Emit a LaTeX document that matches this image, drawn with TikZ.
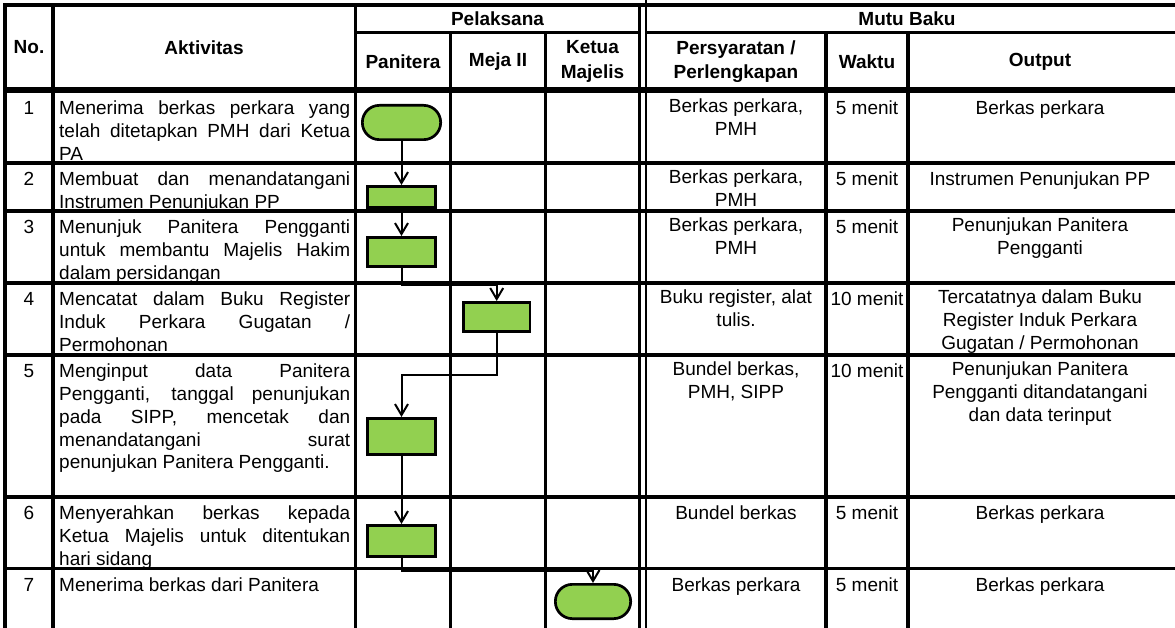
\documentclass[tikz,border=0pt]{standalone}
\usepackage{fontspec}
\setmainfont{Liberation Sans}
\usetikzlibrary{arrows.meta}
\definecolor{boxgreen}{RGB}{146,208,80}
\begin{document}
\begin{tikzpicture}[x=1pt,y=-1pt,
  grid/.style={line width=3.1pt},
  thickgrid/.style={line width=5.5pt},
  hdr/.style={font=\fontsize{19}{24.5}\selectfont\bfseries, align=center, inner sep=0pt, anchor=center},
  cell/.style={font=\fontsize{19}{22.8}\selectfont, inner sep=0pt, anchor=north, align=center, execute at begin node=\strut},
  act/.style={font=\fontsize{19}{22.8}\selectfont, text width=291pt, align=justify, inner sep=0pt, anchor=north west, execute at begin node={\hyphenpenalty=10000\relax\tolerance=10000\relax\strut}},
  proc/.style={draw, line width=2.7pt, fill=boxgreen, inner sep=0pt},
  term/.style={draw, line width=2.7pt, fill=boxgreen, rounded corners=17pt, minimum width=78.3pt, minimum height=34.3pt, inner sep=0pt},
  flow/.style={line width=2pt, -{Straight Barb[length=11pt,width=13pt,line width=2pt]}},
]
\useasboundingbox (0,0) rectangle (1175,628);
\fill[white] (0,0) rectangle (1175,628);

% ---------- header texts ----------
\node[hdr] (hno) at (29,47.5) {No.};
\node[hdr] (hakt) at (204,47.5) {Aktivitas};
\node[hdr] (hpel) at (497.5,18.8) {Pelaksana};
\node[hdr] (hmutu) at (907,18.8) {Mutu Baku};
\node[hdr] (hpan) at (403,61.5) {Panitera};
\node[hdr] (hmeja) at (498,61.5) {Meja II};
\node[hdr] (hket) at (592.5,61.5) {Ketua\\Majelis};
\node[hdr] (hper) at (736,61.5) {Persyaratan /\\Perlengkapan};
\node[hdr] (hwak) at (867,61.5) {Waktu};
\node[hdr] (hout) at (1040,61.5) {Output};

% ---------- row 1 ----------
\begin{scope}
\clip (0,90) rectangle (1175,163);
\node[cell] (n1) at (29,98.5) {1};
\node[act] (a1) at (59,98.5) {Menerima berkas perkara yang\linebreak telah ditetapkan PMH dari Ketua\linebreak PA};
\node[cell] (p1) at (736,98.5) {Berkas perkara,\\PMH};
\node[cell] (w1) at (867,98.5) {5 menit};
\node[cell] (o1) at (1040,98.5) {Berkas perkara};
\end{scope}
% ---------- row 2 ----------
\begin{scope}
\clip (0,163) rectangle (1175,211);
\node[cell] (n2) at (29,169.5) {2};
\node[act] (a2) at (59,169.5) {Membuat dan menandatangani\linebreak Instrumen Penunjukan PP};
\node[cell] (p2) at (736,169.5) {Berkas perkara,\\PMH};
\node[cell] (w2) at (867,169.5) {5 menit};
\node[cell] (o2) at (1040,169.5) {Instrumen Penunjukan PP};
\end{scope}
% ---------- row 3 ----------
\begin{scope}
\clip (0,211) rectangle (1175,283);
\node[cell] (n3) at (29,217.5) {3};
\node[act] (a3) at (59,217.5) {Menunjuk Panitera Pengganti\linebreak untuk membantu Majelis Hakim\linebreak dalam persidangan};
\node[cell] (p3) at (736,217.5) {Berkas perkara,\\PMH};
\node[cell] (w3) at (867,217.5) {5 menit};
\node[cell] (o3) at (1040,217.5) {Penunjukan Panitera\\Pengganti};
\end{scope}
% ---------- row 4 ----------
\begin{scope}
\clip (0,283) rectangle (1175,355);
\node[cell] (n4) at (29,289.5) {4};
\node[act] (a4) at (59,289.5) {Mencatat dalam Buku Register\linebreak Induk Perkara Gugatan /\linebreak Permohonan};
\node[cell] (p4) at (736,289.5) {Buku register, alat\\tulis.};
\node[cell] (w4) at (867,289.5) {10 menit};
\node[cell] (o4) at (1040,289.5) {Tercatatnya dalam Buku\\Register Induk Perkara\\Gugatan / Permohonan};
\end{scope}
% ---------- row 5 ----------
\begin{scope}
\clip (0,355) rectangle (1175,497);
\node[cell] (n5) at (29,361.5) {5};
\node[act] (a5) at (59,361.5) {Menginput data Panitera\linebreak Pengganti, tanggal penunjukan\linebreak pada SIPP, mencetak dan\linebreak menandatangani surat\linebreak penunjukan Panitera Pengganti.};
\node[cell] (p5) at (736,361.5) {Bundel berkas,\\PMH, SIPP};
\node[cell] (w5) at (867,361.5) {10 menit};
\node[cell] (o5) at (1040,361.5) {Penunjukan Panitera\\Pengganti ditandatangani\\dan data terinput};
\end{scope}
% ---------- row 6 ----------
\begin{scope}
\clip (0,497) rectangle (1175,568.5);
\node[cell] (n6) at (29,503.5) {6};
\node[act] (a6) at (59,503.5) {Menyerahkan berkas kepada\linebreak Ketua Majelis untuk ditentukan\linebreak hari sidang};
\node[cell] (p6) at (736,503.5) {Bundel berkas};
\node[cell] (w6) at (867,503.5) {5 menit};
\node[cell] (o6) at (1040,503.5) {Berkas perkara};
\end{scope}
% ---------- row 7 ----------
\begin{scope}
\clip (0,568.5) rectangle (1175,628);
\node[cell] (n7) at (29,575) {7};
\node[act] (a7) at (59,575) {Menerima berkas dari Panitera};
\node[cell] (p7) at (736,575) {Berkas perkara};
\node[cell] (w7) at (867,575) {5 menit};
\node[cell] (o7) at (1040,575) {Berkas perkara};
\end{scope}

% ---------- grid ----------
\draw[grid] (5,5) -- (1175,5);
\draw[grid] (355.5,32.5) -- (639.5,32.5);
\draw[grid] (646,32.5) -- (1175,32.5);
\draw[thickgrid] (5,90) -- (1175,90);
\foreach \yy in {163,211,283,355,497,568.5}
  \draw[grid] (5,\yy) -- (1175,\yy);
\foreach \xx in {5,53,355.5}
  \draw[grid] (\xx,3.5) -- (\xx,628);
\foreach \xx in {450.5,545.5,826,908}
  \draw[grid] (\xx,32.5) -- (\xx,628);
\draw[line width=2.8pt] (639.5,3.5) -- (639.5,628);
\draw[line width=2.8pt] (646,0) -- (646,628);

% ---------- flow shapes ----------
\node[term] (t1) at (401.5,122.5) {};
\node[proc, minimum width=68.3pt, minimum height=21.3pt] (r2) at (401.5,197) {};
\node[proc, minimum width=68.3pt, minimum height=29.3pt] (r3) at (401.5,252) {};
\node[proc, minimum width=66.3pt, minimum height=29.3pt] (r4) at (496.7,317) {};
\node[proc, minimum width=68.3pt, minimum height=36.3pt] (r5) at (401.5,436.5) {};
\node[proc, minimum width=68.3pt, minimum height=31.3pt] (r6) at (401.5,541) {};
\node[term, minimum width=75.3pt] (t7) at (593,601.5) {};

% ---------- connectors ----------
\draw[flow] (t1) -- (r2);
\draw[flow] (r2) -- (r3);
\draw[flow] (r3.south) -- ++(0,17) -| (r4.north);
\draw[flow] (r4.south) -- ++(0,42) -| (r5.north);
\draw[flow] (r5) -- (r6);
\draw[flow] (r6.south) -- ++(0,12.5) -| (t7.north);
\end{tikzpicture}
\end{document}
